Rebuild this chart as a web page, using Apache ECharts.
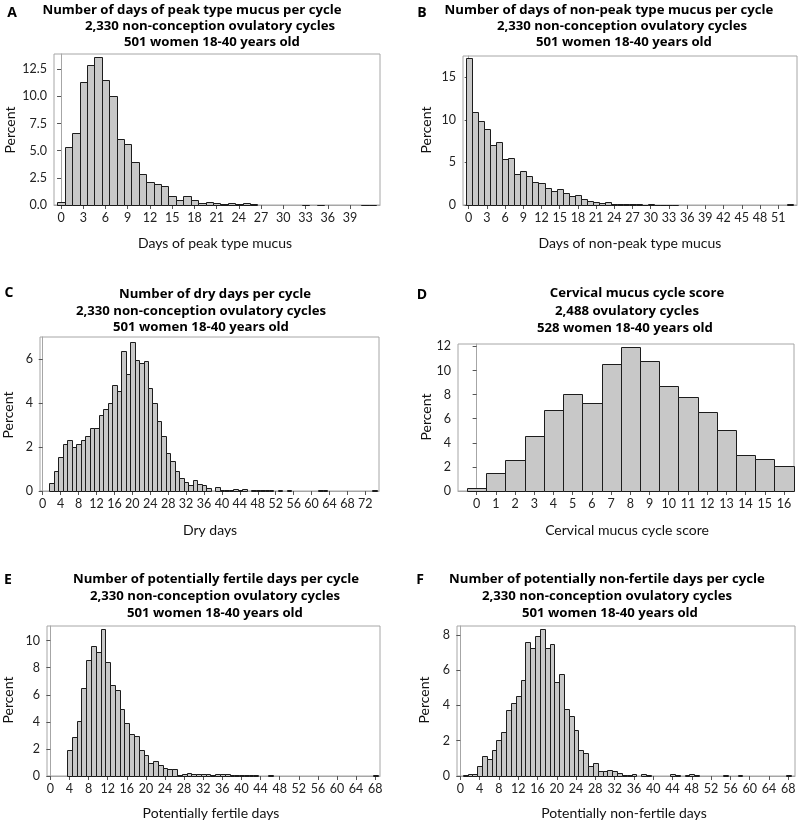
<!DOCTYPE html>
<html>
<head>
<meta charset="utf-8">
<script src="https://cdn.jsdelivr.net/npm/echarts@6/dist/echarts.min.js"></script>
<style>
  html, body { margin: 0; padding: 0; background: #fff; }
  #box { width: 800px; height: 824px; }
</style>
</head>
<body>
<div id="box"></div>
<script>
// percent of cycles, index = number of days (or score)
const peakPct = [0.3, 5.3, 6.6, 11.3, 12.9, 13.6, 11.5, 10.0, 6.1, 5.65,
  4.0, 2.85, 2.15, 1.9, 1.75, 0.86, 0.46, 0.86, 0.46, 0.15,
  0.28, 0.21, 0.09, 0.15, 0.13, 0.15, 0.06, 0, 0, 0,
  0, 0, 0, 0.04, 0, 0.04, 0, 0, 0, 0,
  0, 0.04, 0.04];
const nonPeakPct = [17.3, 10.9, 9.9, 8.9, 7.1, 7.35, 5.35, 5.5, 3.65, 4.05,
  3.35, 2.65, 2.6, 2.05, 1.7, 1.85, 1.4, 1.0, 1.15, 0.65,
  0.45, 0.3, 0.25, 0.4, 0.1, 0.09, 0.08, 0.06, 0.09, 0.04,
  0.08, 0.04, 0.04, 0.04, 0.04, 0, 0, 0, 0, 0,
  0, 0, 0, 0, 0, 0, 0, 0, 0, 0,
  0, 0, 0, 0.08];
const dryPct = [0, 0, 0.35, 0.92, 1.53, 2.14, 2.32, 2.0, 2.15, 2.32,
  2.5, 2.87, 2.87, 3.47, 3.74, 4.0, 4.81, 4.55, 6.38, 5.31,
  6.79, 5.97, 5.8, 5.91, 4.67, 4.0, 3.19, 2.5, 1.73, 1.36,
  0.92, 0.58, 0.4, 0.27, 0.49, 0.3, 0.27, 0.15, 0, 0.17,
  0.04, 0.06, 0.04, 0.09, 0.06, 0.09, 0, 0.04, 0.04, 0.04,
  0.04, 0.04, 0, 0.04, 0, 0.04, 0, 0, 0, 0,
  0, 0, 0.04, 0.04, 0, 0, 0, 0, 0, 0,
  0, 0, 0, 0, 0.04];
const scorePct = [0.22, 1.52, 2.6, 4.6, 6.76, 8.08, 7.31, 10.57, 11.95, 10.79,
  8.69, 7.83, 6.54, 5.1, 3.0, 2.62, 2.04];
const fertilePct = [0, 0, 0, 0, 1.9, 2.9, 4.06, 6.53, 8.6, 9.63,
  9.19, 10.89, 8.4, 6.72, 6.33, 4.93, 3.92, 3.1, 2.96, 1.95,
  1.53, 0.96, 1.11, 0.84, 0.59, 0.49, 0.54, 0.1, 0.17, 0.22,
  0.17, 0.17, 0.12, 0.12, 0.07, 0.12, 0.12, 0.12, 0.1, 0.1,
  0.1, 0.05, 0.1, 0.07, 0, 0, 0.05, 0, 0, 0,
  0, 0, 0, 0, 0, 0, 0, 0, 0, 0,
  0, 0, 0, 0, 0, 0, 0, 0, 0.05];
const nonFertilePct = [0, 0.08, 0.13, 0.13, 0.57, 1.12, 0.98, 1.46, 2.02, 2.5,
  3.76, 4.14, 4.52, 5.46, 7.62, 7.26, 7.96, 8.34, 7.26, 7.5,
  5.35, 5.78, 3.82, 3.4, 2.63, 1.49, 1.32, 0.57, 0.76, 0.28,
  0.3, 0.34, 0.26, 0.19, 0.08, 0.06, 0.13, 0, 0.09, 0.06,
  0, 0, 0, 0, 0.09, 0.06, 0, 0.08, 0.09, 0.06,
  0, 0, 0, 0, 0, 0.06, 0, 0, 0.06, 0,
  0, 0, 0, 0, 0, 0, 0, 0, 0.06];

// tick labels
const ticksA = [0, 3, 6, 9, 12, 15, 18, 21, 24, 27, 30, 33, 36, 39];
const ticksB = [0, 3, 6, 9, 12, 15, 18, 21, 24, 27, 30, 33, 36, 39, 42, 45, 48, 51];
const ticksC = [0, 4, 8, 12, 16, 20, 24, 28, 32, 36, 40, 44, 48, 52, 56, 60, 64, 68, 72];
const ticksD = [0, 1, 2, 3, 4, 5, 6, 7, 8, 9, 10, 11, 12, 13, 14, 15, 16];
const ticksEF = [0, 4, 8, 12, 16, 20, 24, 28, 32, 36, 40, 44, 48, 52, 56, 60, 64, 68];
const yTicksA = [0, 2.5, 5, 7.5, 10, 12.5];
const yTicksB = [0, 5, 10, 15];
const yTicksC = [0, 2, 4, 6];
const yTicksD = [0, 2, 4, 6, 8, 10, 12];
const yTicksE = [0, 2, 4, 6, 8, 10];
const yTicksF = [0, 2, 4, 6, 8];

const FONT = 'Lato, "Open Sans", sans-serif';
const TFONT = '"Open Sans", sans-serif';

const panels = [
  { letter: 'A', data: peakPct, xt: ticksA, yt: yTicksA, xmin: -0.95, xmax: 43.05, ymax: 13.9, dec: 1,
    grid: { left: 54, top: 54, width: 326, height: 151 },
    title: ['Number of days of peak type mucus per cycle', '2,330 non-conception ovulatory cycles', '501 women 18-40 years old'],
    tpos: [[192, 10], [210, 26], [212, 42]], lpos: [12, 13],
    xname: 'Days of peak type mucus', xpos: [215, 243], ypos: [10, 130] },
  { letter: 'B', data: nonPeakPct, xt: ticksB, yt: yTicksB, xmin: -0.93, xmax: 54.1, ymax: 17.5, dec: 0,
    grid: { left: 463, top: 56, width: 334, height: 149 },
    title: ['Number of days of non-peak type mucus per cycle', '2,330 non-conception ovulatory cycles', '501 women 18-40 years old'],
    tpos: [[609, 10], [622, 26], [624, 42]], lpos: [422, 13],
    xname: 'Days of non-peak type mucus', xpos: [630, 243], ypos: [426, 130] },
  { letter: 'C', data: dryPct, xt: ticksC, yt: yTicksC, xmin: -0.6, xmax: 75.05, ymax: 7.0, dec: 0,
    grid: { left: 40, top: 337, width: 339, height: 154 },
    title: ['Number of dry days per cycle', '2,330 non-conception ovulatory cycles', '501 women 18-40 years old'],
    tpos: [[215, 294], [201, 311], [201, 327]], lpos: [9, 293],
    xname: 'Dry days', xpos: [210, 530], ypos: [8, 415] },
  { letter: 'D', data: scorePct, xt: ticksD, yt: yTicksD, xmin: -0.97, xmax: 16.52, ymax: 12.2, dec: 0,
    grid: { left: 458, top: 344, width: 336, height: 147 },
    title: ['Cervical mucus cycle score', '2,488 ovulatory cycles', '528 women 18-40 years old'],
    tpos: [[637, 293], [627, 311], [625, 328]], lpos: [422, 295],
    xname: 'Cervical mucus cycle score', xpos: [627, 530], ypos: [426, 417] },
  { letter: 'E', data: fertilePct, xt: ticksEF, yt: yTicksE, xmin: -0.7, xmax: 69.0, ymax: 11.08, dec: 0,
    grid: { left: 47, top: 626, width: 333, height: 150 },
    title: ['Number of potentially fertile days per cycle', '2,330 non-conception ovulatory cycles', '501 women 18-40 years old'],
    tpos: [[216, 579], [215, 596], [215, 613]], lpos: [8, 580],
    xname: 'Potentially fertile days', xpos: [211, 813], ypos: [8, 700] },
  { letter: 'F', data: nonFertilePct, xt: ticksEF, yt: yTicksF, xmin: -0.69, xmax: 69.4, ymax: 8.5, dec: 0,
    grid: { left: 457, top: 626, width: 338, height: 150 },
    title: ['Number of potentially non-fertile days per cycle', '2,330 non-conception ovulatory cycles', '501 women 18-40 years old'],
    tpos: [[607, 579], [607, 596], [610, 613]], lpos: [420, 580],
    xname: 'Potentially non-fertile days', xpos: [624, 813], ypos: [424, 700] }
];

function histBar(params, api) {
  const x = api.value(0), y = api.value(1);
  if (!y) return null;
  const a = api.coord([x - 0.5, y]);
  const b = api.coord([x + 0.5, 0]);
  const x0 = Math.round(a[0]) + 0.5, x1 = Math.round(b[0]) + 0.5;
  const y0 = Math.round(a[1]) + 0.5, y1 = Math.round(b[1]) + 0.5;
  return {
    type: 'rect',
    shape: { x: x0, y: y0, width: x1 - x0, height: y1 - y0 },
    style: { fill: '#c8c8c8', stroke: '#1c1c1c', lineWidth: 1 }
  };
}

const grids = [], xAxes = [], yAxes = [], series = [], texts = [];

panels.forEach((p, i) => {
  grids.push(Object.assign({ show: true, borderColor: '#a6a6a6', borderWidth: 1, backgroundColor: 'transparent' }, p.grid));
  xAxes.push({
    gridIndex: i, type: 'value', min: p.xmin, max: p.xmax,
    axisLine: { show: true, onZero: false, lineStyle: { color: '#a6a6a6' } },
    axisTick: { show: true, length: 4, customValues: p.xt, lineStyle: { color: '#555' } },
    axisLabel: { customValues: p.xt, fontSize: 12.5, color: '#222', margin: 6, fontFamily: FONT },
    splitLine: { show: false }
  });
  yAxes.push({
    gridIndex: i, type: 'value', min: 0, max: p.ymax,
    axisLine: { show: true, lineStyle: { color: '#a6a6a6' } },
    axisTick: { show: true, length: 4, customValues: p.yt, lineStyle: { color: '#555' } },
    axisLabel: { customValues: p.yt, fontSize: 12.5, color: '#222', margin: 7, fontFamily: FONT,
      formatter: v => v.toFixed(p.dec) },
    splitLine: { show: false }
  });
  series.push({
    type: 'custom', xAxisIndex: i, yAxisIndex: i,
    renderItem: histBar,
    data: p.data.map((v, k) => [k, v]),
    silent: true
  });
  texts.push({ type: 'text', x: p.lpos[0], y: p.lpos[1],
    style: { text: p.letter, font: 'bold 14px ' + TFONT, fill: '#000', textAlign: 'center', textVerticalAlign: 'middle' } });
  p.title.forEach((t, j) => {
    texts.push({ type: 'text', x: p.tpos[j][0], y: p.tpos[j][1],
      style: { text: t, font: 'bold 13.2px ' + TFONT, fill: '#000', textAlign: 'center', textVerticalAlign: 'middle' } });
  });
  texts.push({ type: 'text', x: p.xpos[0], y: p.xpos[1],
    style: { text: p.xname, font: '14px ' + FONT, fill: '#111', textAlign: 'center', textVerticalAlign: 'middle' } });
  texts.push({ type: 'text', x: p.ypos[0], y: p.ypos[1], rotation: Math.PI / 2,
    style: { text: 'Percent', font: '14px ' + FONT, fill: '#111', textAlign: 'center', textVerticalAlign: 'middle' } });
});

const chart = echarts.init(document.getElementById('box'));
chart.setOption({
  animation: false,
  backgroundColor: '#fff',
  grid: grids,
  xAxis: xAxes,
  yAxis: yAxes,
  series: series,
  graphic: { elements: texts }
});
</script>
</body>
</html>
